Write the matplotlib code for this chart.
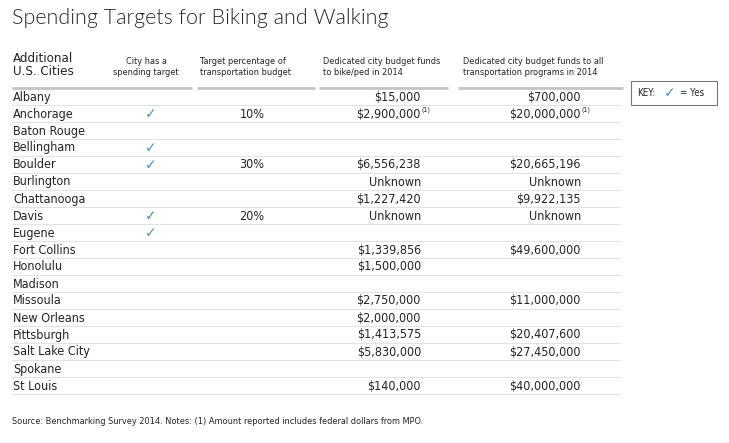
import matplotlib.pyplot as plt
from matplotlib.patches import Rectangle

# table data
cities = ['Albany', 'Anchorage', 'Baton Rouge', 'Bellingham', 'Boulder', 'Burlington',
          'Chattanooga', 'Davis', 'Eugene', 'Fort Collins', 'Honolulu', 'Madison',
          'Missoula', 'New Orleans', 'Pittsburgh', 'Salt Lake City', 'Spokane', 'St Louis']
has_target = [False, True, False, True, True, False, False, True, True,
              False, False, False, False, False, False, False, False, False]
target_pct = ['', '10%', '', '', '30%', '', '', '20%', '', '', '', '', '', '', '', '', '', '']
bikeped_funds = ['$15,000', '$2,900,000', '', '', '$6,556,238', 'Unknown', '$1,227,420',
                 'Unknown', '', '$1,339,856', '$1,500,000', '', '$2,750,000', '$2,000,000',
                 '$1,413,575', '$5,830,000', '', '$140,000']
total_funds = ['$700,000', '$20,000,000', '', '', '$20,665,196', 'Unknown', '$9,922,135',
               'Unknown', '', '$49,600,000', '', '', '$11,000,000', '', '$20,407,600',
               '$27,450,000', '', '$40,000,000']
footnote = [False, True] + [False] * 16

title = 'Spending Targets for Biking and Walking'
source = 'Source: Benchmarking Survey 2014. Notes: (1) Amount reported includes federal dollars from MPO.'

txt = '#242424'
check_col = '#4a8fc2'
cond = dict(family='DejaVu Sans', fontstretch='condensed', color=txt)

fig = plt.figure(figsize=(7.29, 4.43), dpi=100)
ax = fig.add_axes([0, 0, 1, 1])
ax.set_xlim(0, 729)
ax.set_ylim(443, 0)
ax.axis('off')

ax.text(12, 18, title, fontsize=15.5, family='Lato', fontweight=300,
        color='#262626', va='center', ha='left')

# headers
ax.text(13, 65, 'Additional\nU.S. Cities', fontsize=9.5, va='center', ha='left',
        linespacing=1.0, **cond)
hdr = dict(fontsize=6.6, va='center', linespacing=1.15, **cond)
ax.text(146, 67, 'City has a\nspending target', ha='center', multialignment='center', **hdr)
ax.text(200, 67, 'Target percentage of\ntransportation budget', ha='left', **hdr)
ax.text(323, 67, 'Dedicated city budget funds\nto bike/ped in 2014', ha='left', **hdr)
ax.text(463, 67, 'Dedicated city budget funds to all\ntransportation programs in 2014', ha='left', **hdr)

for x0, x1 in [(12, 192), (197, 315), (319, 448), (458, 623)]:
    ax.plot([x0, x1], [88, 88], color='#c4c4c4', lw=2, solid_capstyle='butt')

# rows
y0, dy = 97, 17
row = dict(fontsize=9, va='center', **cond)
for i, c in enumerate(cities):
    y = y0 + i * dy
    ax.plot([12, 620], [y + 7.5, y + 7.5], color='#e3e3e3', lw=0.8)
    ax.text(13, y, c, ha='left', **row)
    if has_target[i]:
        ax.text(151, y, '\u2713', ha='center', va='center', fontsize=10,
                family='DejaVu Sans', color=check_col)
    if target_pct[i]:
        ax.text(252, y, target_pct[i], ha='center', **row)
    if bikeped_funds[i]:
        ax.text(421, y, bikeped_funds[i], ha='right', **row)
    if total_funds[i]:
        ax.text(581, y, total_funds[i], ha='right', **row)
    if footnote[i]:
        ax.text(422, y - 4, '(1)', ha='left', va='center', fontsize=5, **cond)
        ax.text(582, y - 4, '(1)', ha='left', va='center', fontsize=5, **cond)

# key box
ax.add_patch(Rectangle((631, 81), 86, 24, fill=False, edgecolor='#777777', lw=0.8))
ax.text(637, 93, 'KEY:', ha='left', va='center', fontsize=7, **cond)
ax.text(670, 93, '\u2713', ha='center', va='center', fontsize=10, family='DejaVu Sans', color=check_col)
ax.text(680, 93, '= Yes', ha='left', va='center', fontsize=7, **cond)

ax.text(12, 422, source, ha='left', va='center', fontsize=6.6, **cond)

fig.savefig('out.png', dpi=100)
